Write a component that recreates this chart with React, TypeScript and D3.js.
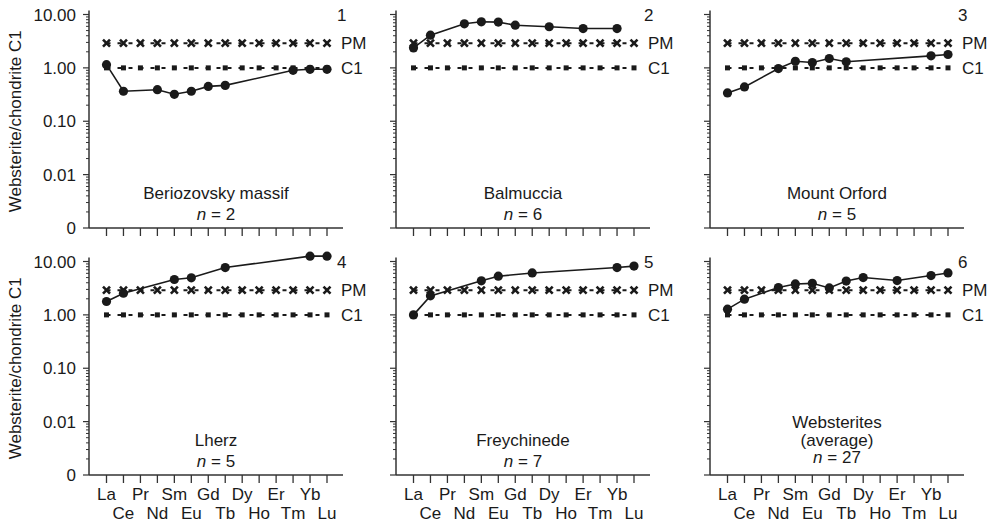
import React from "react";
import * as d3 from "d3";

const elements = ["La", "Ce", "Pr", "Nd", "Sm", "Eu", "Gd", "Tb", "Dy", "Ho", "Er", "Tm", "Yb", "Lu"];

const beriozovsky = [1.15, 0.365, null, 0.39, 0.32, 0.365, 0.45, 0.47, null, null, null, 0.9, 0.94, 0.94];
const balmuccia = [2.37, 4.1, null, 6.7, 7.3, 7.2, 6.3, null, 5.9, null, 5.45, null, 5.45, null];
const mountOrford = [0.34, 0.44, null, 0.97, 1.33, 1.26, 1.5, 1.3, null, null, null, null, 1.68, 1.78];
const lherz = [1.78, 2.55, null, null, 4.6, 4.95, null, 7.7, null, null, null, null, 12.6, 12.6];
const freychinede = [1.0, 2.27, null, null, 4.35, 5.3, null, 6.1, null, null, null, null, 7.7, 8.2];
const websterites = [1.28, 1.97, null, 3.25, 3.8, 3.9, 3.2, 4.3, 5.0, null, 4.4, null, 5.45, 6.1];

const pmValues = [2.9, 2.9, 2.9, 2.9, 2.9, 2.9, 2.9, 2.9, 2.9, 2.9, 2.9, 2.9, 2.9, 2.9];
const c1Values = [1, 1, 1, 1, 1, 1, 1, 1, 1, 1, 1, 1, 1, 1];

const yTickValues = [0.001, 0.01, 0.1, 1, 10];
const yTickLabels = ["0", "0.01", "0.10", "1.00", "10.00"];

const panelTitles = [
  ["Beriozovsky massif"],
  ["Balmuccia"],
  ["Mount Orford"],
  ["Lherz"],
  ["Freychinede"],
  ["Websterites", "(average)"],
];
const panelN = ["2", "6", "5", "5", "7", "27"];
const panelSeries = [beriozovsky, balmuccia, mountOrford, lherz, freychinede, websterites];

const FONT = "'Liberation Sans', Arial, Helvetica, sans-serif";
const FS = 17;
const INK = "#1a1a1a";

const colX = [89, 396, 710];
const rowTop = [14.5, 261.5];
const rowBottom = [228, 475];
const AXIS_W = 254;

function minorTicks(): number[] {
  const out: number[] = [];
  for (let e = -3; e < 1; e++) {
    for (let m = 2; m <= 9; m++) out.push(m * Math.pow(10, e));
  }
  return out;
}

function Panel({ idx }: { idx: number }) {
  const col = idx % 3;
  const row = Math.floor(idx / 3);
  const ax = colX[col];
  const top = rowTop[row];
  const bottom = rowBottom[row];
  const x = d3.scaleLinear().domain([0, 13]).range([ax + 17.5, ax + 238]);
  const y = d3.scaleLog().domain([0.001, 10]).range([bottom, top]);
  const series = panelSeries[idx];
  const pts = series
    .map((v, i) => ({ v, i }))
    .filter((d) => d.v !== null) as { v: number; i: number }[];
  const line = d3
    .line<{ v: number; i: number }>()
    .x((d) => x(d.i))
    .y((d) => y(d.v));
  const flatLine = d3
    .line<number>()
    .x((_, i) => x(i))
    .y((d) => y(d));
  const cx = ax + AXIS_W / 2;
  const titles = panelTitles[idx];
  const multi = titles.length > 1;
  const nBase = multi ? bottom - 12 : bottom - 8;
  const lineGap = multi ? 17.5 : 21;
  return (
    <g>
      <line x1={ax} x2={ax} y1={top - 4} y2={bottom} stroke="#333" strokeWidth={1.5} />
      <line x1={ax} x2={ax + AXIS_W} y1={bottom} y2={bottom} stroke="#333" strokeWidth={1.5} />
      {yTickValues.map((t) => (
        <line key={"M" + t} x1={ax - 6} x2={ax} y1={y(t)} y2={y(t)} stroke="#333" strokeWidth={1.2} />
      ))}
      {minorTicks().map((t) => (
        <line key={"m" + t} x1={ax - 3} x2={ax} y1={y(t)} y2={y(t)} stroke="#333" strokeWidth={1} />
      ))}
      {col === 0 &&
        yTickValues.map((t, i) => (
          <text key={"l" + t} x={ax - 13} y={y(t) + 6} textAnchor="end" fontSize={FS} fontFamily={FONT} fill={INK}>
            {yTickLabels[i]}
          </text>
        ))}
      {elements.map((e, i) => (
        <line key={"xt" + e} x1={x(i)} x2={x(i)} y1={bottom} y2={bottom + 8} stroke="#333" strokeWidth={1.3} />
      ))}
      {row === 1 &&
        elements.map((e, i) => (
          <text
            key={"xl" + e}
            x={x(i)}
            y={i % 2 === 0 ? 500 : 519}
            textAnchor="middle"
            fontSize={FS}
            fontFamily={FONT}
            fill={INK}
          >
            {e}
          </text>
        ))}
      <path d={flatLine(pmValues) || ""} fill="none" stroke={INK} strokeWidth={2} strokeDasharray="4 7" />
      {pmValues.map((v, i) => (
        <g key={"pm" + i} transform={`translate(${x(i)},${y(v)})`} stroke={INK} strokeWidth={2.6}>
          <line x1={-3.5} y1={-3.5} x2={3.5} y2={3.5} />
          <line x1={-3.5} y1={3.5} x2={3.5} y2={-3.5} />
        </g>
      ))}
      <path d={flatLine(c1Values) || ""} fill="none" stroke={INK} strokeWidth={2} strokeDasharray="4 7" />
      {c1Values.map((v, i) => (
        <rect key={"c1" + i} x={x(i) - 2.5} y={y(v) - 2.5} width={5} height={5} fill={INK} />
      ))}
      <path d={line(pts) || ""} fill="none" stroke={INK} strokeWidth={1.6} />
      {pts.map((d) => (
        <circle key={"p" + d.i} cx={x(d.i)} cy={y(d.v)} r={4.6} fill={INK} />
      ))}
      <text x={ax + 248} y={top + 6.5} fontSize={FS} fontFamily={FONT} fill={INK}>
        {String(idx + 1)}
      </text>
      <text x={ax + 252} y={y(2.9) + 6} fontSize={FS} fontFamily={FONT} fill={INK}>
        PM
      </text>
      <text x={ax + 252} y={y(1) + 6} fontSize={FS} fontFamily={FONT} fill={INK}>
        C1
      </text>
      {titles.map((t, i) => (
        <text
          key={"t" + i}
          x={cx}
          y={nBase - lineGap * (titles.length - i)}
          textAnchor="middle"
          fontSize={FS}
          fontFamily={FONT}
          fill={INK}
        >
          {t}
        </text>
      ))}
      <text x={cx} y={nBase} textAnchor="middle" fontSize={FS} fontFamily={FONT} fill={INK}>
        <tspan fontStyle="italic">n</tspan>
        {" = " + panelN[idx]}
      </text>
      {col === 0 && (
        <text
          transform={`translate(21,${(top + bottom) / 2}) rotate(-90)`}
          textAnchor="middle"
          fontSize={FS}
          fontFamily={FONT}
          fill={INK}
        >
          Websterite/chondrite C1
        </text>
      )}
    </g>
  );
}

export default function App() {
  return (
    <svg
      width={993}
      height={526}
      style={{ position: "absolute", left: 0, top: 0, background: "#fff" }}
    >
      {[0, 1, 2, 3, 4, 5].map((i) => (
        <Panel key={i} idx={i} />
      ))}
    </svg>
  );
}
